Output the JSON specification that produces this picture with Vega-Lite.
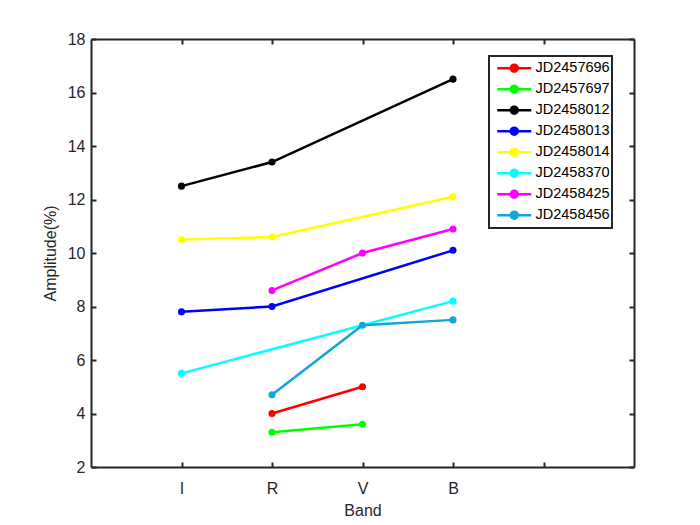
{
  "$schema": "https://vega.github.io/schema/vega-lite/v6.json",
  "description": "Amplitude per band for eight Julian dates, MATLAB-style frame.",
  "autosize": {"type": "none"},
  "width": 543,
  "height": 428,
  "padding": {"left": 91, "top": 39, "right": 66, "bottom": 58},
  "background": "white",
  "data": {
    "values": [
      {"JD": "JD2457696", "Band": "R", "Amplitude": 4.0},
      {"JD": "JD2457696", "Band": "V", "Amplitude": 5.0},
      {"JD": "JD2457697", "Band": "R", "Amplitude": 3.3},
      {"JD": "JD2457697", "Band": "V", "Amplitude": 3.6},
      {"JD": "JD2458012", "Band": "I", "Amplitude": 12.5},
      {"JD": "JD2458012", "Band": "R", "Amplitude": 13.4},
      {"JD": "JD2458012", "Band": "B", "Amplitude": 16.5},
      {"JD": "JD2458013", "Band": "I", "Amplitude": 7.8},
      {"JD": "JD2458013", "Band": "R", "Amplitude": 8.0},
      {"JD": "JD2458013", "Band": "B", "Amplitude": 10.1},
      {"JD": "JD2458014", "Band": "I", "Amplitude": 10.5},
      {"JD": "JD2458014", "Band": "R", "Amplitude": 10.6},
      {"JD": "JD2458014", "Band": "B", "Amplitude": 12.1},
      {"JD": "JD2458370", "Band": "I", "Amplitude": 5.5},
      {"JD": "JD2458370", "Band": "B", "Amplitude": 8.2},
      {"JD": "JD2458425", "Band": "R", "Amplitude": 8.6},
      {"JD": "JD2458425", "Band": "V", "Amplitude": 10.0},
      {"JD": "JD2458425", "Band": "B", "Amplitude": 10.9},
      {"JD": "JD2458456", "Band": "R", "Amplitude": 4.7},
      {"JD": "JD2458456", "Band": "V", "Amplitude": 7.3},
      {"JD": "JD2458456", "Band": "B", "Amplitude": 7.5}
    ]
  },
  "layer": [
    {
      "mark": {"type": "point", "opacity": 0},
      "encoding": {
        "x": {
          "field": "Band",
          "type": "ordinal",
          "scale": {"type": "point", "domain": ["0", "I", "R", "V", "B", "5", "6"], "padding": 0},
          "axis": {"orient": "top", "values": ["I", "R", "V", "B", "5"], "labels": false, "title": null}
        },
        "y": {
          "field": "Amplitude",
          "type": "quantitative",
          "scale": {"domain": [2, 18], "nice": false, "zero": false},
          "axis": {"orient": "right", "values": [2, 4, 6, 8, 10, 12, 14, 16, 18], "labels": false, "title": null}
        }
      }
    },
    {
      "mark": {"type": "line", "strokeWidth": 2.5, "point": {"filled": true, "size": 50, "opacity": 1}},
      "encoding": {
        "x": {
          "field": "Band",
          "type": "ordinal",
          "scale": {"type": "point", "domain": ["0", "I", "R", "V", "B", "5", "6"], "padding": 0},
          "axis": {
            "orient": "bottom",
            "values": ["I", "R", "V", "B", "5"],
            "labelExpr": "datum.value == '5' ? '' : datum.label",
            "labelAngle": 0,
            "labelPadding": 18,
            "title": "Band",
            "titlePadding": 6
          }
        },
        "y": {
          "field": "Amplitude",
          "type": "quantitative",
          "scale": {"domain": [2, 18], "nice": false, "zero": false},
          "axis": {
            "orient": "left",
            "values": [2, 4, 6, 8, 10, 12, 14, 16, 18],
            "labelPadding": 11,
            "title": "Amplitude(%)",
            "titlePadding": 9
          }
        },
        "color": {
          "field": "JD",
          "type": "nominal",
          "scale": {
            "domain": ["JD2457696", "JD2457697", "JD2458012", "JD2458013", "JD2458014", "JD2458370", "JD2458425", "JD2458456"],
            "range": ["#ff0000", "#00ff00", "#000000", "#0000ff", "#ffff00", "#00ffff", "#ff00ff", "#13a4d8"]
          },
          "legend": {
            "orient": "none",
            "legendX": 398,
            "legendY": 17,
            "title": null,
            "symbolType": "M-0.25,0H8.25M3.125,0A0.875,0.875,0,1,1,4.875,0A0.875,0.875,0,1,1,3.125,0",
            "symbolSize": 64,
            "symbolStrokeWidth": 2.5,
            "labelOffset": 30,
            "clipHeight": 20.4,
            "rowPadding": 0,
            "padding": 2,
            "strokeColor": "#262626",
            "fillColor": "white",
            "encode": {
              "symbols": {"update": {"fill": {"scale": "color", "field": "value"}, "fillOpacity": {"value": 1}}},
              "legend": {"update": {"strokeWidth": {"value": 2}}}
            }
          }
        },
        "order": {"value": null}
      }
    }
  ],
  "resolve": {"axis": {"x": "independent", "y": "independent"}},
  "config": {
    "font": "Liberation Sans",
    "view": {"stroke": null},
    "axis": {
      "grid": false,
      "domainColor": "#262626",
      "domainWidth": 2,
      "tickColor": "#262626",
      "tickWidth": 2,
      "tickSize": -5,
      "labelFont": "Liberation Sans",
      "labelFontSize": 16,
      "labelColor": "#262626",
      "titleFont": "Liberation Sans",
      "titleFontSize": 16,
      "titleFontWeight": "normal",
      "titleColor": "#262626"
    },
    "legend": {
      "labelFont": "Liberation Sans",
      "labelFontSize": 14.5,
      "labelColor": "#000000",
      "labelLimit": 300
    }
  }
}
